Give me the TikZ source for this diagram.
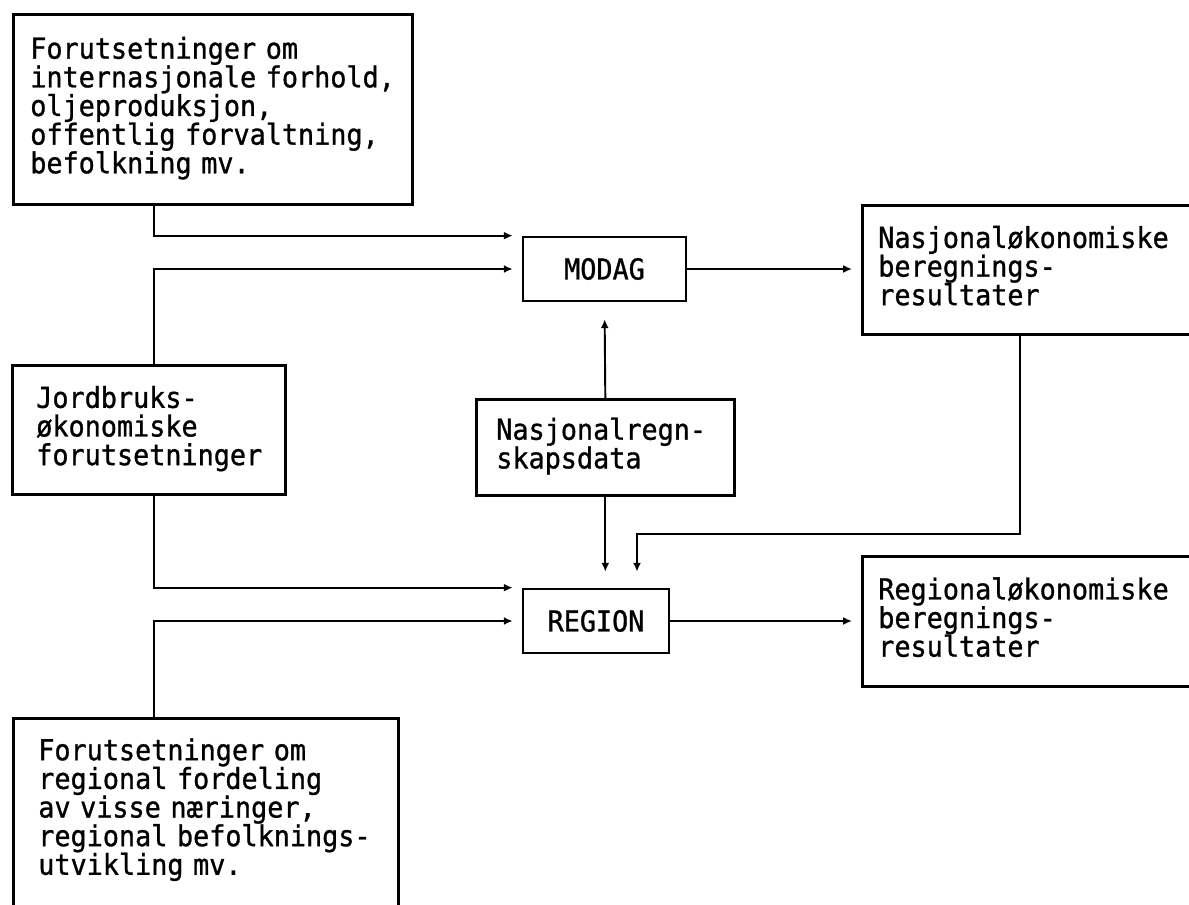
\documentclass[tikz,border=0pt]{standalone}
\usepackage{fontspec}
\usepackage{tikz}
\usetikzlibrary{arrows.meta, positioning}
\newfontfamily\gothicmono[FakeStretch=0.93, FakeBold=1]{DejaVu Sans Mono}
\newcommand{\DiagFont}{\gothicmono\fontsize{16.4}{16.3}\selectfont}

\begin{document}
\begin{tikzpicture}[
    textbox/.style={draw, line width=1.5pt, font=\DiagFont, align=left, anchor=north west, inner ysep=0pt, execute at end node=\strut},
    modelbox/.style={draw, line width=1.5pt, font=\DiagFont, minimum height=1.28cm, inner sep=0pt},
    flow/.style={line width=1.1pt, -{Latex[length=5pt,width=4.5pt]}}
]
    \useasboundingbox (0,0) rectangle (23.78,-18.10);

    % Assumptions (left column)
    \node[textbox, text width=7.30cm, inner xsep=0.34cm, minimum height=3.80cm] (intl) at (0.24,-0.26) {Forutsetninger om\\internasjonale forhold,\\oljeproduksjon,\\offentlig forvaltning,\\befolkning mv.};
    \node[textbox, text width=4.50cm, inner xsep=0.48cm, minimum height=2.58cm] (agri) at (0.22,-7.28) {Jordbruks-\\økonomiske\\forutsetninger};
    \node[textbox, text width=6.70cm, inner xsep=0.50cm, inner ysep=0.40cm] (regional) at (0.24,-14.34) {Forutsetninger om\\regional fordeling\\av visse næringer,\\regional befolknings-\\utvikling mv.\rule[-1.5cm]{0pt}{0pt}};

    % Models and data
    \node[modelbox, minimum width=3.26cm] (modag) at (12.09,-5.38) {MODAG};
    \node[modelbox, minimum width=2.92cm] (region) at (11.92,-12.42) {REGION};
    \node[textbox, text width=4.36cm, inner xsep=0.40cm, minimum height=1.92cm] (natacc) at (9.50,-7.96) {Nasjonalregn-\\skapsdata};

    % Results (right column)
    \node[textbox, text width=6.36cm, inner xsep=0.32cm, minimum height=2.58cm] (natres) at (17.22,-4.08) {Nasjonaløkonomiske\\beregnings-\\resultater};
    \node[textbox, text width=6.36cm, inner xsep=0.32cm, minimum height=2.60cm] (regres) at (17.22,-11.10) {Regionaløkonomiske\\beregnings-\\resultater};

    % Connectors
    \draw[flow, shorten >=0.18cm] ([xshift=2.84cm]intl.south west) |- (modag.north west);
    \draw[flow, shorten >=0.18cm] ([xshift=2.86cm]agri.north west) |- (modag.west);
    \draw[flow, shorten >=0.18cm] ([xshift=2.86cm]agri.south west) |- (region.north west);
    \draw[flow, shorten >=0.18cm] ([xshift=2.84cm]regional.north west) |- (region.west);
    \draw[flow, shorten >=0.34cm] (natacc.north) -- (modag.south);
    \draw[flow, shorten >=0.32cm] (natacc.south) -- (natacc.south |- region.north);
    \draw[flow, shorten >=0.32cm] ([xshift=3.18cm]natres.south west) -- ++(0,-3.96) -| ([xshift=0.82cm]region.north);
    \draw[flow, shorten >=0.18cm] (modag.east) -- (modag.east -| natres.west);
    \draw[flow, shorten >=0.18cm] (region.east) -- (region.east -| regres.west);
\end{tikzpicture}
\end{document}
